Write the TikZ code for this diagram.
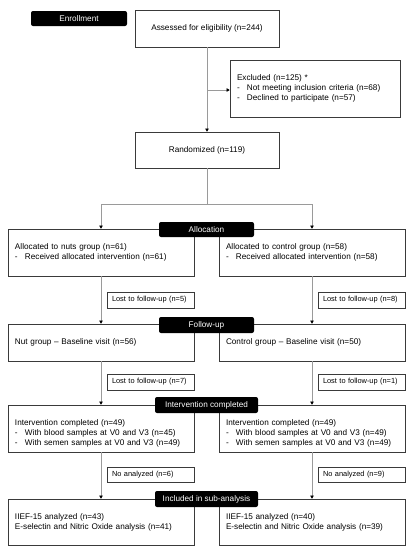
\documentclass[tikz,border=0pt]{standalone}
\usepackage{fontspec}
\setmainfont{Liberation Sans}
\usetikzlibrary{arrows.meta}
\definecolor{linegray}{HTML}{9A9A9A}
\definecolor{boxgray}{HTML}{3A3A3A}
\tikzset{
  box/.style={draw=boxgray, line width=0.6pt, fill=white, inner xsep=7pt, inner ysep=0pt,
    font=\fontsize{8.2}{10}\selectfont, align=left},
  cbox/.style={box, align=center},
  smallbox/.style={draw=boxgray, line width=0.6pt, fill=white, inner xsep=5pt, inner ysep=0pt,
    font=\fontsize{7.4}{9}\selectfont, align=left, anchor=center},
  header/.style={fill=black, rounded corners=2pt, text=white, inner sep=0pt,
    font=\fontsize{8.2}{10}\selectfont, align=center},
  conn/.style={draw=linegray, line width=0.6pt},
  arr/.style={conn, -{Triangle[length=3.2pt,width=3.6pt,color=black]}},
}
\newcommand{\bul}{\makebox[10pt][l]{-}}
\begin{document}
\begin{tikzpicture}[x=1pt,y=-1pt]
\useasboundingbox (0,0) rectangle (413,550);
\fill[white] (0,0) rectangle (413,550);
% boxes
\node[cbox, minimum width=144pt, minimum height=37pt] (assess) at (207,28.5) {Assessed for eligibility (n=244)};
\node[box, minimum width=170pt, minimum height=57pt, text width=156pt] (excl) at (315,88.5)
  {Excluded (n=125) *\\\bul Not meeting inclusion criteria (n=68)\\\bul Declined to participate (n=57)};
\node[cbox, minimum width=144pt, minimum height=36pt] (rand) at (207,150) {Randomized (n=119)};

\node[box, minimum width=186pt, minimum height=47pt, text width=172pt] (alL) at (101,252.5)
  {Allocated to nuts group (n=61)\\\bul Received allocated intervention (n=61)};
\node[box, minimum width=186pt, minimum height=47pt, text width=172pt] (alR) at (312,252.5)
  {Allocated to control group (n=58)\\\bul Received allocated intervention (n=58)};

\node[smallbox, minimum width=87pt, minimum height=16pt, text width=77pt] (l1L) at (150.5,300) {Lost to follow-up (n=5)};
\node[smallbox, minimum width=87pt, minimum height=16pt, text width=77pt] (l1R) at (361.5,300) {Lost to follow-up (n=8)};

\node[box, minimum width=186pt, minimum height=37pt, text width=172pt] (fuL) at (101,342.5)
  {Nut group -- Baseline visit (n=56)};
\node[box, minimum width=186pt, minimum height=37pt, text width=172pt] (fuR) at (312,342.5)
  {Control group -- Baseline visit (n=50)};

\node[smallbox, minimum width=87pt, minimum height=16pt, text width=77pt] (l2L) at (150.5,382) {Lost to follow-up (n=7)};
\node[smallbox, minimum width=87pt, minimum height=16pt, text width=77pt] (l2R) at (361.5,382) {Lost to follow-up (n=1)};

\node[box, minimum width=186pt, minimum height=47pt, text width=172pt] (icL) at (101,428.5)
  {\rule{0pt}{16pt}Intervention completed (n=49)\\\bul With blood samples at V0 and V3 (n=45)\\\bul With semen samples at V0 and V3 (n=49)};
\node[box, minimum width=186pt, minimum height=47pt, text width=172pt] (icR) at (312,428.5)
  {\rule{0pt}{16pt}Intervention completed (n=49)\\\bul With blood samples at V0 and V3 (n=49)\\\bul With semen samples at V0 and V3 (n=49)};

\node[smallbox, minimum width=87pt, minimum height=15pt, text width=77pt] (naL) at (150.5,475) {No analyzed (n=6)};
\node[smallbox, minimum width=87pt, minimum height=15pt, text width=77pt] (naR) at (361.5,475) {No analyzed (n=9)};

\node[box, minimum width=186pt, minimum height=46pt, text width=172pt] (saL) at (101,522)
  {IIEF-15 analyzed (n=43)\\E-selectin and Nitric Oxide analysis (n=41)};
\node[box, minimum width=186pt, minimum height=46pt, text width=172pt] (saR) at (312,522)
  {IIEF-15 analyzed (n=40)\\E-selectin and Nitric Oxide analysis (n=39)};

% headers
\node[header, minimum width=96pt, minimum height=15pt] (hEnr) at (79,18.5) {Enrollment};
\node[header, minimum width=95pt, minimum height=15pt] (hAll) at (206.5,229.5) {Allocation};
\node[header, minimum width=95pt, minimum height=16pt] (hFu) at (206.5,325) {Follow-up};
\node[header, minimum width=103pt, minimum height=16pt] (hIc) at (206.5,405) {Intervention completed};
\node[header, minimum width=103pt, minimum height=16pt] (hSa) at (206.5,499) {Included in sub-analysis};

% connectors
\coordinate (exb) at (207,90);
\draw[arr] (assess.south) -- (rand.north);
\draw[arr] (exb) -- (exb -| excl.west);
\coordinate (sp) at (207,204);
\coordinate (spL) at (101,204);
\coordinate (spR) at (312,204);
\draw[conn] (rand.south) -- (sp);
\draw[arr] (sp) -- (spL) -- (alL.north);
\draw[arr] (sp) -- (spR) -- (alR.north);
\draw[arr] (alL.south) -- (fuL.north);
\draw[arr] (alR.south) -- (fuR.north);
\draw[arr] (fuL.south) -- (icL.north);
\draw[arr] (fuR.south) -- (icR.north);
\draw[arr] (icL.south) -- (saL.north);
\draw[arr] (icR.south) -- (saR.north);
\end{tikzpicture}
\end{document}
